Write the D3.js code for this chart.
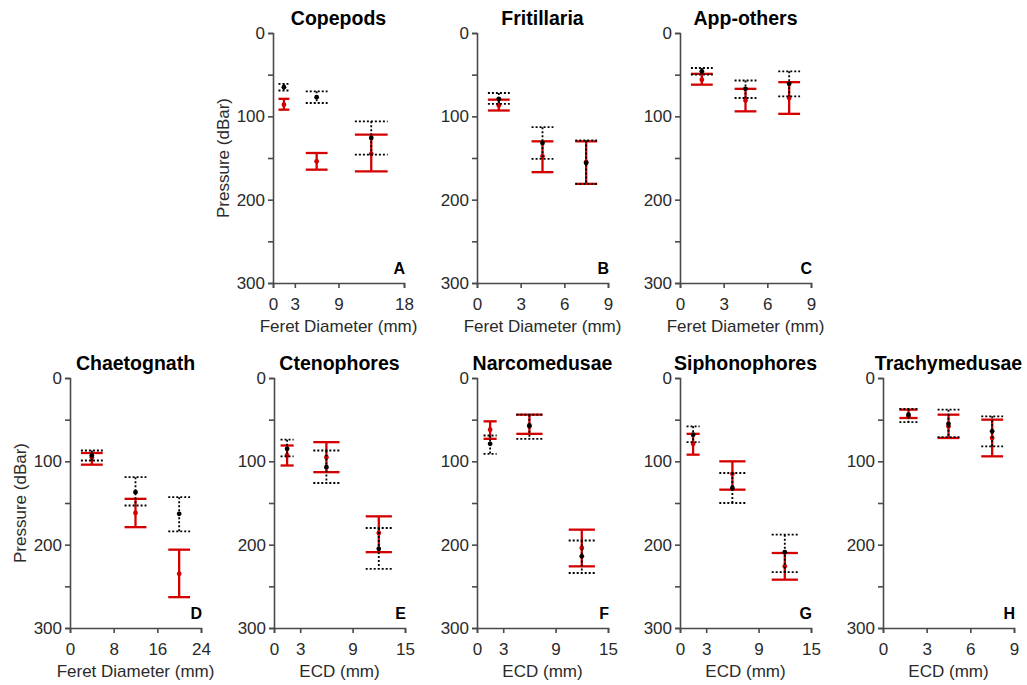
<!DOCTYPE html>
<html>
<head>
<meta charset="utf-8">
<script src="https://cdn.jsdelivr.net/npm/d3@7"></script>
<style>
  body { margin: 0; background: #fff; }
  svg { font-family: "Liberation Sans", Arial, sans-serif; }
</style>
</head>
<body>
<svg width="1027" height="685"></svg>
<script>
// panel names, letters and axis text
var titles = ["Copepods", "Fritillaria", "App-others", "Chaetognath", "Ctenophores", "Narcomedusae", "Siphonophores", "Trachymedusae"];
var letters = ["A", "B", "C", "D", "E", "F", "G", "H"];
var xLabels = ["Feret Diameter (mm)", "Feret Diameter (mm)", "Feret Diameter (mm)", "Feret Diameter (mm)", "ECD (mm)", "ECD (mm)", "ECD (mm)", "ECD (mm)"];
var xTicks = [[0, 3, 9, 18], [0, 3, 6, 9], [0, 3, 6, 9], [0, 8, 16, 24], [0, 3, 9, 15], [0, 3, 9, 15], [0, 3, 9, 15], [0, 3, 6, 9]];
var yTicks = [0, 50, 100, 150, 200, 250, 300];

// size classes (mm) for each panel
var bins = [
  [[0, 3], [3, 9], [9, 18]],
  [[0, 3], [3, 6], [6, 9]],
  [[0, 3], [3, 6], [6, 9]],
  [[0, 8], [8, 16], [16, 24]],
  [[0, 3], [3, 9], [9, 15]],
  [[0, 3], [3, 9], [9, 15]],
  [[0, 3], [3, 9], [9, 15]],
  [[0.5, 3], [3, 6], [6, 9]]
];

// red series (solid): mean pressure, upper and lower error
var redMean = [[86, 154, 145], [87, 148, 155], [56, 81, 78], [95, 162, 235], [93, 95, 186], [62, 58, 204], [79, 115, 226], [46, 58, 72]];
var redLow  = [[79, 144, 122], [80, 130, 130], [49, 67, 59], [90, 145, 206], [81, 77, 166], [52, 44, 182], [67, 100, 210], [38, 44, 50]];
var redHigh = [[92, 164, 166], [93, 167, 181], [62, 94, 97], [104, 179, 263], [105, 113, 209], [73, 67, 226], [92, 134, 242], [48, 72, 94]];

// black series (dotted)
var blackMean = [[65, 77, 126], [79, 132, 156], [46, 67, 61], [93, 137, 163], [85, 107, 205], [79, 57, 214], [68, 132, 209], [44, 55, 64]];
var blackLow  = [[61, 70, 106], [72, 113, 129], [42, 57, 46], [87, 119, 143], [74, 87, 180], [69, 44, 195], [58, 114, 188], [37, 38, 46]];
var blackHigh = [[69, 84, 146], [85, 151, 181], [50, 78, 76], [99, 153, 184], [94, 126, 229], [91, 73, 234], [77, 150, 233], [53, 71, 82]];

var panelLeft = [273, 477, 680, 70, 274, 477, 680, 883];
var panelTop = [33, 33, 33, 378, 378, 378, 378, 378];
var showYLabel = [true, false, false, true, false, false, false, false];
var plotW = 131, plotH = 250;

var svg = d3.select("svg");
var axisColor = "#4a4a4a", textColor = "#2a2a2a";
var red = "#d40000";

titles.forEach(function(title, i)
{
  var xMax = xTicks[i][xTicks[i].length - 1];
  var x = d3.scaleLinear().domain([0, xMax]).range([0, plotW]);
  var y = d3.scaleLinear().domain([0, 300]).range([0, plotH]);

  var g = svg.append("g")
             .attr("transform", "translate(" + panelLeft[i] + "," + panelTop[i] + ")");

  var yAxis = g.append("g")
               .call(d3.axisLeft(y).tickValues(yTicks).tickSizeOuter(0).tickSize(5)
                       .tickFormat(function(d){ return d % 100 === 0 ? d : ""; }));
  var xAxis = g.append("g")
               .attr("transform", "translate(0," + plotH + ")")
               .call(d3.axisBottom(x).tickValues(xTicks[i]).tickSizeOuter(0).tickSize(5));

  [yAxis, xAxis].forEach(function(a)
  {
    a.select(".domain").attr("stroke", axisColor).attr("stroke-width", 1.6);
    a.selectAll(".tick line").attr("stroke", axisColor).attr("stroke-width", 1.6);
    a.selectAll(".tick text").attr("fill", textColor).attr("font-size", 17)
     .attr("font-family", "Liberation Sans, Arial, sans-serif");
  });
  yAxis.selectAll(".tick text").attr("x", -8);
  xAxis.selectAll(".tick text").attr("y", 15);

  // title
  g.append("text")
   .attr("x", plotW / 2).attr("y", -8)
   .attr("text-anchor", "middle")
   .attr("font-weight", "bold").attr("font-size", 19.5)
   .attr("fill", "#000")
   .text(title);

  // panel letter
  g.append("text")
   .attr("x", plotW + 1).attr("y", plotH - 9)
   .attr("text-anchor", "end")
   .attr("font-weight", "bold").attr("font-size", 16)
   .attr("fill", "#000")
   .text(letters[i]);

  // x label
  g.append("text")
   .attr("x", plotW / 2).attr("y", plotH + 49)
   .attr("text-anchor", "middle")
   .attr("font-size", 17).attr("fill", textColor)
   .text(xLabels[i]);

  if (showYLabel[i])
  {
    g.append("text")
     .attr("transform", "translate(-44," + (plotH / 2) + ") rotate(-90)")
     .attr("text-anchor", "middle")
     .attr("font-size", 17).attr("fill", textColor)
     .text("Pressure (dBar)");
  }

  var drawSeries = function(mean, low, high, color, dash, width)
  {
    var rows = bins[i].map(function(b, k)
    {
      return { cx: (b[0] + b[1]) / 2, half: (b[1] - b[0]) / 4, m: mean[i][k], lo: low[i][k], hi: high[i][k] };
    });
    var s = g.append("g")
             .attr("stroke", color).attr("stroke-width", width)
             .attr("stroke-dasharray", dash);
    s.selectAll(".stem").data(rows).enter().append("line")
     .attr("x1", function(d){ return x(d.cx); }).attr("x2", function(d){ return x(d.cx); })
     .attr("y1", function(d){ return y(d.lo); }).attr("y2", function(d){ return y(d.hi); });
    s.selectAll(".capTop").data(rows).enter().append("line")
     .attr("x1", function(d){ return x(d.cx - d.half); }).attr("x2", function(d){ return x(d.cx + d.half); })
     .attr("y1", function(d){ return y(d.lo); }).attr("y2", function(d){ return y(d.lo); });
    s.selectAll(".capBot").data(rows).enter().append("line")
     .attr("x1", function(d){ return x(d.cx - d.half); }).attr("x2", function(d){ return x(d.cx + d.half); })
     .attr("y1", function(d){ return y(d.hi); }).attr("y2", function(d){ return y(d.hi); });
    g.append("g").selectAll("circle").data(rows).enter().append("circle")
     .attr("cx", function(d){ return x(d.cx); })
     .attr("cy", function(d){ return y(d.m); })
     .attr("r", 2.4)
     .attr("fill", color);
  };

  drawSeries(redMean, redLow, redHigh, red, null, 2.3);
  drawSeries(blackMean, blackLow, blackHigh, "#000", "2,2", 1.8);
});
</script>
</body>
</html>
